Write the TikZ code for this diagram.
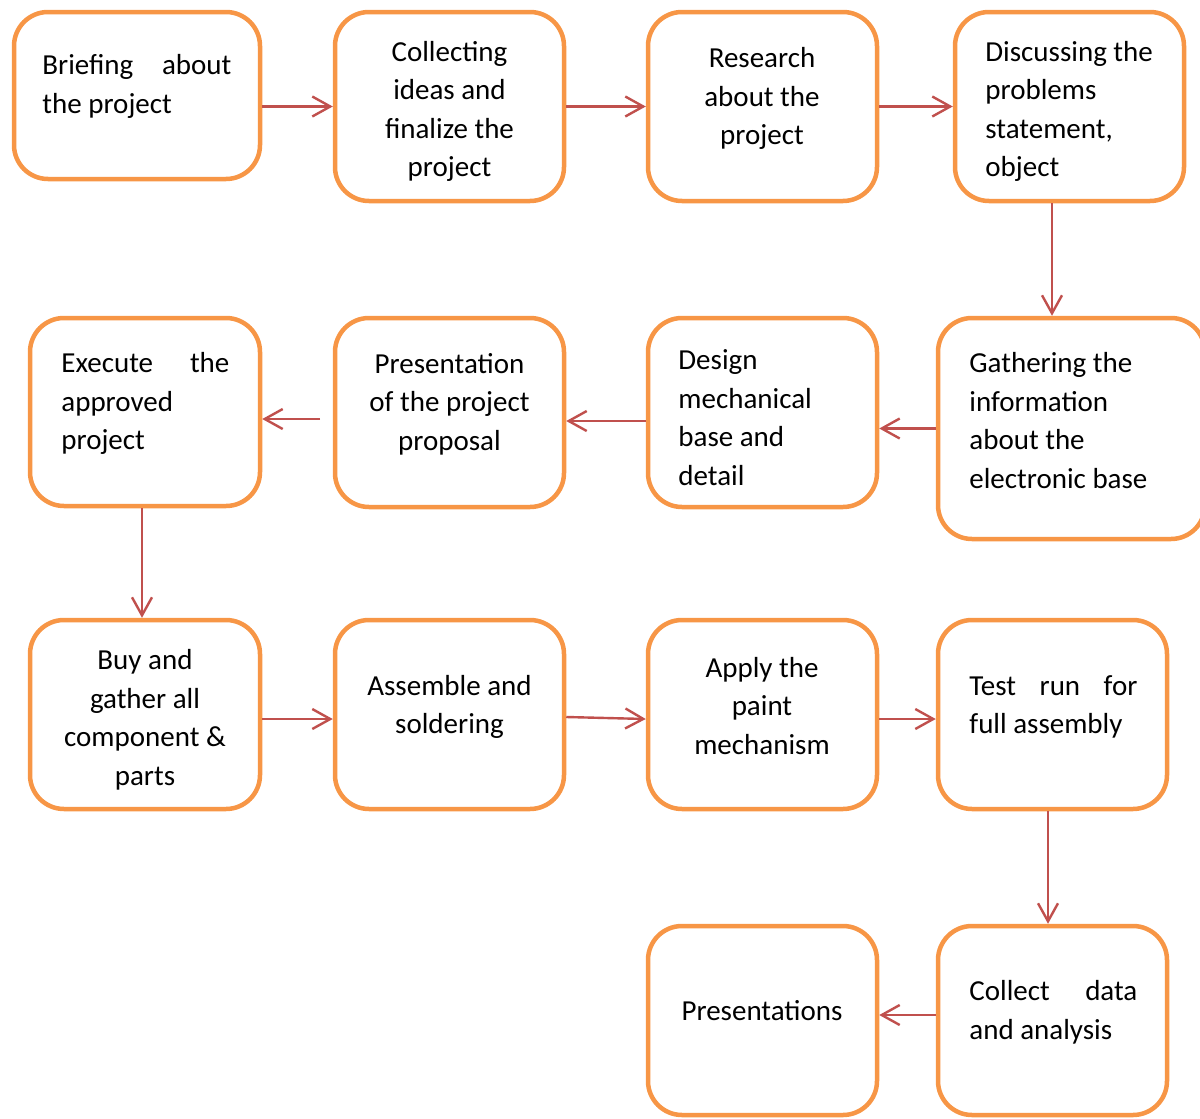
\documentclass[tikz,border=0pt]{standalone}
\usepackage{fontspec}
\setmainfont{Carlito}
\usetikzlibrary{arrows.meta}
\definecolor{boxorange}{HTML}{F79646}
\definecolor{arrred}{HTML}{C0504D}
\begin{document}
\begin{tikzpicture}[x=0.5pt,y=-0.5pt,
  box/.style={draw=boxorange,line width=2.25pt,rounded corners=17pt,fill=white,inner sep=0pt},
  wbox/.style={box,minimum width=114.5pt,minimum height=94.5pt},
  txt/.style={inner sep=0pt,font=\fontsize{14.5pt}{19.25pt}\selectfont},
  arr/.style={draw=arrred,line width=1.2pt,-{Straight Barb[length=9pt,width=10pt,line width=1.2pt]}}]
\useasboundingbox (0,0) rectangle (1200,1119);
% boxes
\node[box,minimum width=123pt,minimum height=83.5pt] (b1) at (137,95.5) {};
\node[wbox] (b2) at (449.5,106.5) {};
\node[wbox] (b3) at (762.5,106.5) {};
\node[wbox] (b4) at (1069.5,106.5) {};
\node[box,minimum width=115pt,minimum height=94pt] (b5) at (145,412) {};
\node[wbox] (b6) at (449.5,412.5) {};
\node[wbox] (b7) at (762.5,412.5) {};
\node[box,minimum width=133.5pt,minimum height=110.5pt] (b8) at (1071.5,428.5) {};
\node[box,minimum width=115pt,minimum height=94.5pt] (b9) at (145,714.5) {};
\node[wbox] (b10) at (449.5,714.5) {};
\node[wbox] (b11) at (762.5,714.5) {};
\node[wbox] (b12) at (1052.5,714.5) {};
\node[wbox] (b13) at (762.5,1020.5) {};
\node[wbox] (b14) at (1052.5,1020.5) {};
% texts
\node[txt,anchor=west,align=left] (t1) at (42,86.5) {\makebox[94.5pt][s]{Briefing about}\\the project};
\node[txt,align=center] (t2) at (449.5,111.5) {Collecting\\ideas and\\finalize the\\project};
\node[txt,align=center] (t3) at (762,98.5) {Research\\about the\\project};
\node[txt,anchor=west,align=left] (t4) at (985,111.5) {Discussing the\\problems\\statement,\\object};
\node[txt,anchor=west,align=left] (t5) at (61,403.5) {\makebox[84pt][s]{Execute the}\\approved\\project};
\node[txt,align=center] (t6) at (449.5,404) {Presentation\\of the project\\proposal};
\node[txt,anchor=west,align=left] (t7) at (678,417.5) {Design\\mechanical\\base and\\detail};
\node[txt,anchor=west,align=left] (t8) at (969,420.5) {Gathering the\\information\\about the\\electronic base};
\node[txt,align=center] (t9) at (145,720) {Buy and\\gather all\\component \&\\parts};
\node[txt,align=center] (t10) at (449.5,707) {Assemble and\\soldering};
\node[txt,align=center] (t11) at (762,706) {Apply the\\paint\\mechanism};
\node[txt,anchor=west,align=left] (t12) at (969,707) {\makebox[84pt][s]{Test run for}\\full assembly};
\node[txt,align=center] (t13) at (762,1011) {Presentations};
\node[txt,anchor=west,align=left] (t14) at (969,1012.5) {\makebox[84pt][s]{Collect data}\\and analysis};
% arrows
\coordinate (c7) at (320,419);
\draw[arr] (b1.east |- b2.west) -- (b2.west);
\draw[arr] (b2.east) -- (b3.west);
\draw[arr] (b3.east) -- (b4.west);
\draw[arr] ([xshift=-8.75pt]b4.south) -- ([xshift=-8.75pt]b4.south |- b8.north);
\draw[arr] (b8.west) -- (b8.west -| b7.east);
\draw[arr] ([yshift=-4.25pt]b7.west) -- ([yshift=-4.25pt]b7.west -| b6.east);
\draw[arr] (c7) -- (c7 -| b5.east);
\draw[arr] ([xshift=-1.5pt]b5.south) -- ([xshift=-1.5pt]b5.south |- b9.north);
\draw[arr] ([yshift=-2.25pt]b9.east) -- ([yshift=-2.25pt]b9.east -| b10.west);
\draw[arr] ([yshift=-1.25pt]b10.east) -- ([yshift=-2.25pt]b11.west);
\draw[arr] ([yshift=-2.25pt]b11.east) -- ([yshift=-2.25pt]b11.east -| b12.west);
\draw[arr] ([xshift=-2.25pt]b12.south) -- ([xshift=-2.25pt]b12.south |- b14.north);
\draw[arr] ([yshift=2.75pt]b14.west) -- ([yshift=2.75pt]b14.west -| b13.east);
\end{tikzpicture}
\end{document}
